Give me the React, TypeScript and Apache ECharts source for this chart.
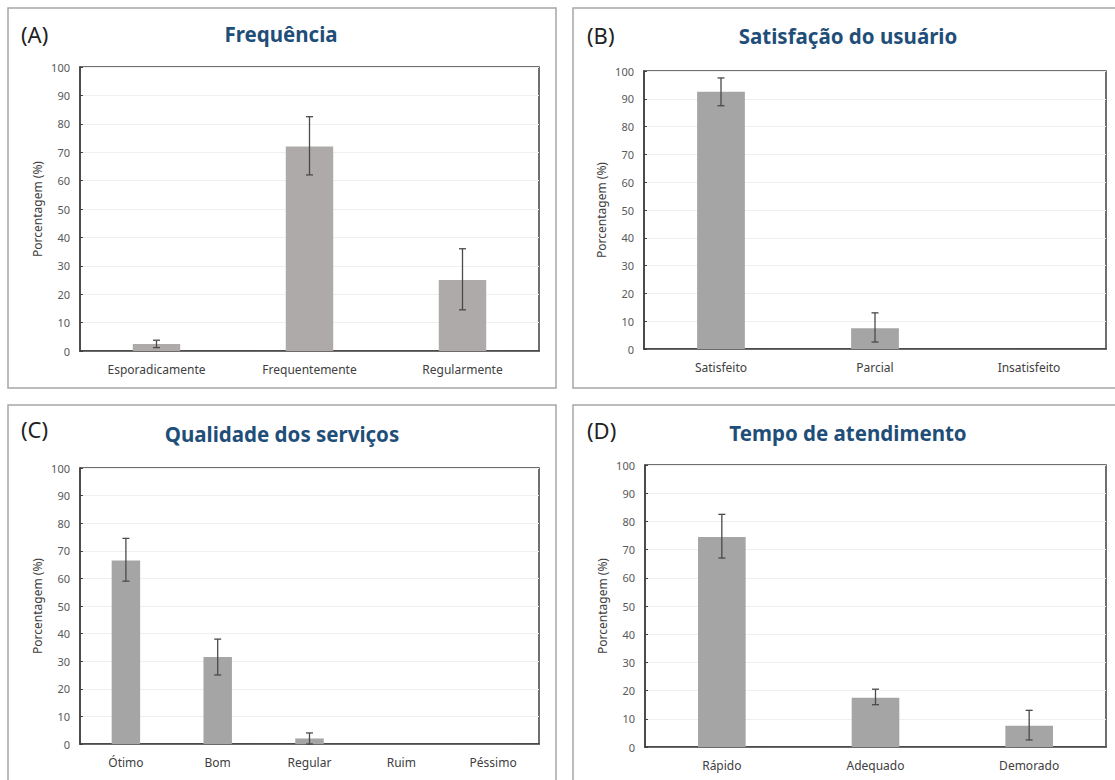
import React, { useEffect, useRef } from "react";
import * as echarts from "echarts";

// ---- Data ----
const catA = ["Esporadicamente", "Frequentemente", "Regularmente"];
const valA = [2.5, 72, 25];
const errLowA = [1.2, 62, 14.5];
const errHighA = [3.8, 82.5, 36];

const catB = ["Satisfeito", "Parcial", "Insatisfeito"];
const valB = [92.5, 7.5, 0];
const errLowB = [87.5, 2.5, null];
const errHighB = [97.5, 13, null];

const catC = ["Ótimo", "Bom", "Regular", "Ruim", "Péssimo"];
const valC = [66.5, 31.5, 2, 0, 0];
const errLowC = [59, 25, 0, null, null];
const errHighC = [74.5, 38, 4, null, null];

const catD = ["Rápido", "Adequado", "Demorado"];
const valD = [74.5, 17.5, 7.5];
const errLowD = [67, 15, 2.5];
const errHighD = [82.5, 20.5, 13];

const titles = ["Frequência", "Satisfação do usuário", "Qualidade dos serviços", "Tempo de atendimento"];
const letters = ["(A)", "(B)", "(C)", "(D)"];
const yTicks = { min: 0, max: 100, interval: 10 };
const yName = "Porcentagem (%)";

const panels = [
  { cats: catA, vals: valA, lo: errLowA, hi: errHighA, color: "#AEAAAA" },
  { cats: catB, vals: valB, lo: errLowB, hi: errHighB, color: "#A5A5A5" },
  { cats: catC, vals: valC, lo: errLowC, hi: errHighC, color: "#A5A5A5" },
  { cats: catD, vals: valD, lo: errLowD, hi: errHighD, color: "#A5A5A5" },
];

// layout
const grids = [
  { left: 80, top: 67, width: 459, height: 284 },
  { left: 644, top: 71, width: 462, height: 278 },
  { left: 80, top: 468, width: 459, height: 276 },
  { left: 645, top: 465, width: 461, height: 282 },
];
const titlePos = [
  { x: 281, y: 23 },
  { x: 848, y: 25 },
  { x: 282, y: 423 },
  { x: 848, y: 422 },
];
const letterPos = [
  { x: 21, y: 34 },
  { x: 587, y: 35 },
  { x: 21, y: 429 },
  { x: 587, y: 430 },
];
const panelRects = [
  { x: 8, y: 8, width: 548, height: 380 },
  { x: 573, y: 8, width: 560, height: 380 },
  { x: 8, y: 405, width: 548, height: 400 },
  { x: 573, y: 405, width: 560, height: 400 },
];

const FONT = "'Noto Sans', 'DejaVu Sans', sans-serif";

export default function App() {
  const ref = useRef<HTMLDivElement>(null);
  useEffect(() => {
    if (!ref.current) return;
    const chart = echarts.init(ref.current, null, { renderer: "svg" });

    const errRender = (params: any, api: any) => {
      const x = api.value(0);
      const lo = api.coord([x, api.value(1)]);
      const hi = api.coord([x, api.value(2)]);
      const cap = 3.5;
      const style = { stroke: "#4A4A4A", lineWidth: 1.3 };
      return {
        type: "group",
        children: [
          { type: "line", shape: { x1: lo[0], y1: lo[1], x2: hi[0], y2: hi[1] }, style },
          { type: "line", shape: { x1: hi[0] - cap, y1: hi[1], x2: hi[0] + cap, y2: hi[1] }, style },
          { type: "line", shape: { x1: lo[0] - cap, y1: lo[1], x2: lo[0] + cap, y2: lo[1] }, style },
        ],
      };
    };

    const series: any[] = [];
    panels.forEach((p, i) => {
      series.push({
        type: "bar",
        xAxisIndex: i,
        yAxisIndex: i,
        data: p.vals,
        barWidth: "31%",
        itemStyle: { color: p.color },
        silent: true,
      });
      const errData: any[] = [];
      p.lo.forEach((l, j) => {
        if (l !== null && p.hi[j] !== null) errData.push([j, l, p.hi[j]]);
      });
      series.push({
        type: "custom",
        xAxisIndex: i,
        yAxisIndex: i,
        data: errData,
        renderItem: errRender,
        encode: { x: 0, y: [1, 2] },
        z: 5,
        silent: true,
      });
    });

    const option: any = {
      animation: false,
      backgroundColor: "#ffffff",
      title: titles.map((t, i) => ({
        text: t,
        left: titlePos[i].x,
        top: titlePos[i].y,
        textAlign: "center",
        padding: 0,
        textStyle: { fontFamily: FONT, fontWeight: "bold", fontSize: 20.5, color: "#1F4E79" },
      })),
      grid: grids.map((g) => ({
        ...g,
        show: true,
        borderColor: "#404040",
        borderWidth: 1.5,
        containLabel: false,
      })),
      xAxis: panels.map((p, i) => ({
        type: "category",
        gridIndex: i,
        data: p.cats,
        axisTick: { show: false },
        axisLine: { lineStyle: { color: "#404040", width: 1.5 } },
        axisLabel: { color: "#404040", fontFamily: FONT, fontSize: 12, margin: 12, interval: 0 },
      })),
      yAxis: panels.map((p, i) => ({
        type: "value",
        gridIndex: i,
        ...yTicks,
        name: yName,
        nameLocation: "middle",
        nameGap: 37,
        nameTextStyle: { color: "#404040", fontFamily: FONT, fontSize: 12 },
        axisLine: { show: true, lineStyle: { color: "#404040", width: 1.5 } },
        axisTick: { show: true, inside: true, length: 3, lineStyle: { color: "#404040" } },
        axisLabel: { color: "#595959", fontFamily: FONT, fontSize: 11, margin: 10 },
        splitLine: { show: true, lineStyle: { color: "#EFEFEF", width: 1 } },
      })),
      graphic: [
        ...panelRects.map((r) => ({
          type: "rect",
          shape: r,
          style: { fill: "none", stroke: "#A6A6A6", lineWidth: 1.5 },
          z: -10,
          silent: true,
        })),
        ...letters.map((l, i) => ({
          type: "text",
          x: letterPos[i].x,
          y: letterPos[i].y,
          style: {
            text: l,
            fill: "#222222",
            font: `22px ${FONT}`,
            textAlign: "left",
            textVerticalAlign: "middle",
          },
          silent: true,
        })),
      ],
      series,
    };
    chart.setOption(option);
    return () => chart.dispose();
  }, []);

  return (
    <div
      ref={ref}
      style={{ position: "fixed", left: 0, top: 0, width: 1115, height: 780, background: "#fff" }}
    />
  );
}
